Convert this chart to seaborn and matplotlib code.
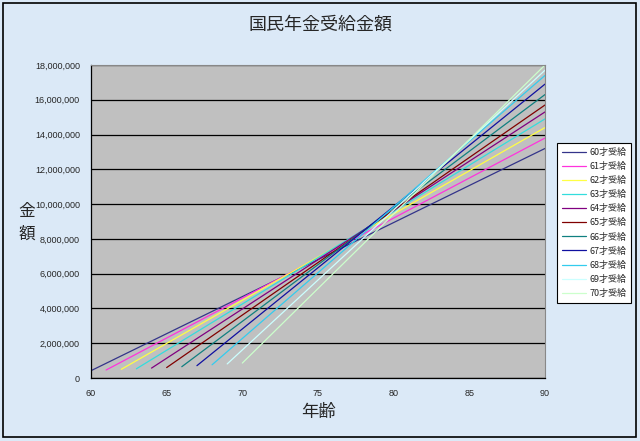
import pandas as pd
import matplotlib
matplotlib.use("Agg")
import matplotlib.pyplot as plt
import matplotlib.ticker as mticker
from matplotlib.patches import Rectangle
import seaborn as sns

# 受給開始年齢ごとの直線 (開始点と90歳時点の累計額, 目視で読んだ値)
series_names = ["60才受給", "61才受給", "62才受給", "63才受給", "64才受給", "65才受給",
                "66才受給", "67才受給", "68才受給", "69才受給", "70才受給"]
start_age = [60, 61, 62, 63, 64, 65, 66, 67, 68, 69, 70]
start_amount = [420000, 460000, 500000, 530000, 570000, 600000,
                650000, 710000, 760000, 810000, 860000]
end_age = [90] * 11
end_amount = [13200000, 13800000, 14400000, 14900000, 15300000, 15700000,
              16300000, 16900000, 17400000, 17700000, 18000000]
line_colors = ["#34348a", "#ff33dd", "#ffff44", "#33dddd", "#800080", "#800000",
               "#108080", "#1010a0", "#33ccee", "#ccffff", "#ccffcc"]

rows = []
for name, a0, v0, a1, v1 in zip(series_names, start_age, start_amount, end_age, end_amount):
    rows.append({"年齢": a0, "金額": v0, "系列": name})
    rows.append({"年齢": a1, "金額": v1, "系列": name})
df = pd.DataFrame(rows)

sns.set_style("white")
plt.rcParams['font.family'] = ['Noto Sans CJK JP', 'DejaVu Sans']

bg = "#dbe9f7"
fig = plt.figure(figsize=(6.4, 4.41), dpi=100, facecolor=bg)
ax = fig.add_axes([91 / 640, 1 - 378 / 441, (545 - 91) / 640, (378 - 65) / 441])
ax.set_facecolor("#c0c0c0")

sns.lineplot(data=df, x="年齢", y="金額", hue="系列", hue_order=series_names,
             palette=line_colors, linewidth=0.9, ax=ax, legend=True)

ax.set_xlim(60, 90)
ax.set_ylim(0, 18000000)
ax.set_xticks(range(60, 91, 5))
ax.set_yticks(range(0, 18000001, 2000000))
ax.yaxis.set_major_formatter(mticker.FuncFormatter(lambda v, p: f"{int(v):,}"))
ax.grid(axis="y", color="black", linewidth=0.9)
ax.set_axisbelow(True)
for side in ["top", "right"]:
    ax.spines[side].set_color("#888888")
    ax.spines[side].set_linewidth(0.8)
for side in ["left", "bottom"]:
    ax.spines[side].set_color("black")
    ax.spines[side].set_linewidth(0.9)
ax.tick_params(axis="both", direction="out", length=4, width=0.8, color="black",
               labelsize=6.5, pad=4)
for lab in ax.get_xticklabels() + ax.get_yticklabels():
    lab.set_family(['Liberation Sans', 'DejaVu Sans'])

ax.set_xlabel("")
ax.set_ylabel("")
fig.text(320 / 640, 1 - 25 / 441, "国民年金受給金額", ha="center", va="center", fontsize=13)
fig.text(318 / 640, 1 - 412 / 441, "年齢", ha="center", va="center", fontsize=12.5)
fig.text(27 / 640, 1 - 223 / 441, "金\n額", ha="center", va="center", fontsize=12,
         linespacing=1.45)

handles, labels = ax.get_legend_handles_labels()
ax.get_legend().remove()
leg = fig.legend(handles, labels, loc="upper left",
                 bbox_to_anchor=(557 / 640, 1 - 143 / 441), fontsize=6.5,
                 frameon=True, fancybox=False, edgecolor="black", facecolor="white",
                 framealpha=1, handlelength=2.7, labelspacing=0.55, borderpad=0.55,
                 handletextpad=0.3, borderaxespad=0)
leg.get_frame().set_linewidth(0.8)

fig.patches.append(Rectangle((3 / 640, 4 / 441), 633 / 640, 434 / 441,
                             transform=fig.transFigure, fill=False,
                             edgecolor="black", linewidth=1.2))

fig.savefig("out.png", dpi=100, facecolor=bg)
